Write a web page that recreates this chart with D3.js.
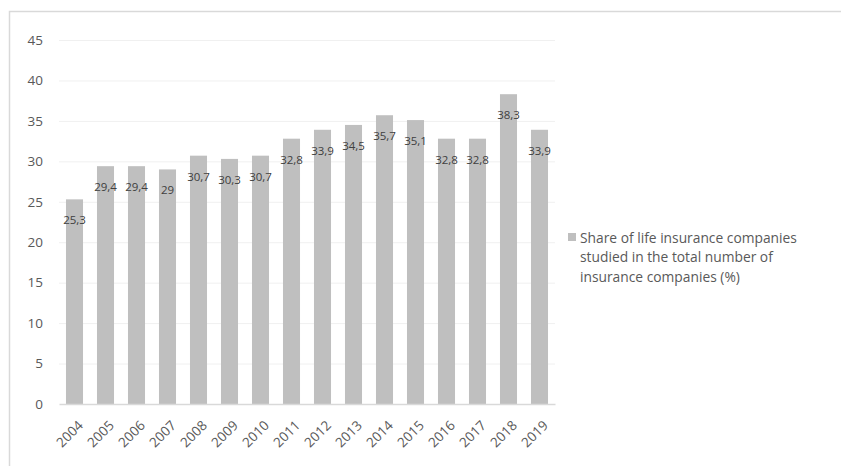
<!DOCTYPE html>
<html>
<head>
<meta charset="utf-8">
<title>Share of life insurance companies</title>
<script src="https://cdnjs.cloudflare.com/ajax/libs/d3/7.8.5/d3.min.js"></script>
<style type="text/css">
body { margin: 0; background: #fff; font-family: "Open Sans", sans-serif; }
.tick text { fill: #595959; font-size: 13.5px; }
.label { fill: #404040; font-size: 11.5px; }
.legend { fill: #595959; font-size: 13.8px; }
</style>
</head>
<body>
<script>
// data
var years = ["2004","2005","2006","2007","2008","2009","2010","2011","2012","2013","2014","2015","2016","2017","2018","2019"];
var shares = [25.3, 29.4, 29.4, 29, 30.7, 30.3, 30.7, 32.8, 33.9, 34.5, 35.7, 35.1, 32.8, 32.8, 38.3, 33.9];
var yTicks = [0, 5, 10, 15, 20, 25, 30, 35, 40, 45];
var legendLines = ["Share of life insurance companies", "studied in the total number of", "insurance companies (%)"];

var W = 841, H = 466;
var margin = {top: 40, left: 59, right: 286, bottom: 62};
var width = W - margin.left - margin.right,
    height = H - margin.top - margin.bottom;

var svg = d3.select("body").append("svg")
    .attr("width", W)
    .attr("height", H);

// chart frame
svg.append("rect")
    .attr("x", 9.5).attr("y", 11.5)
    .attr("width", 900).attr("height", 500)
    .attr("fill", "none")
    .attr("stroke", "#d9d9d9")
    .attr("stroke-width", 1.5);

var g = svg.append("g")
    .attr("transform", "translate(" + margin.left + "," + margin.top + ")");

var x = d3.scaleBand().domain(years).range([0, width]).paddingInner(0.45).paddingOuter(0.225);
var y = d3.scaleLinear().domain([0, 45]).range([height, 0]);

// gridlines
g.selectAll(".grid").data(yTicks.slice(1)).enter().append("line")
    .attr("x1", 0).attr("x2", width)
    .attr("y1", function(d) { return y(d) + 0.5; })
    .attr("y2", function(d) { return y(d) + 0.5; })
    .attr("stroke", "#f0f0f0")
    .attr("stroke-width", 1);

var yAxis = d3.axisLeft(y).tickValues(yTicks).tickSize(0).tickPadding(16);
g.append("g").call(yAxis).call(function(a) { a.select(".domain").remove(); })
    .selectAll("text").attr("font-family", "Open Sans, sans-serif");

g.selectAll(".bar").data(shares).enter().append("rect")
    .attr("x", function(d, i) { return x(years[i]); })
    .attr("y", function(d) { return y(d); })
    .attr("width", x.bandwidth())
    .attr("height", function(d) { return height - y(d); })
    .attr("fill", "#bfbfbf");

// x axis
var xAxis = d3.axisBottom(x).tickSize(0);
var xg = g.append("g").attr("transform", "translate(0," + height + ")").call(xAxis);
xg.select(".domain").attr("stroke", "#d9d9d9").attr("stroke-width", 1.5);
xg.selectAll("text")
    .attr("font-family", "Open Sans, sans-serif")
    .style("text-anchor", "end")
    .attr("x", 0).attr("y", 0)
    .attr("dy", "0.35em")
    .attr("transform", "translate(6,19) rotate(-45)");

// value labels
g.selectAll(".label").data(shares).enter().append("text")
    .attr("class", "label")
    .attr("x", function(d, i) { return x(years[i]) + x.bandwidth() / 2; })
    .attr("y", function(d) { return y(d) + 25; })
    .attr("text-anchor", "middle")
    .text(function(d) { return String(d).replace(".", ","); });

// legend
var lg = svg.append("g").attr("transform", "translate(568,233)");
lg.append("rect").attr("width", 8).attr("height", 8).attr("fill", "#bfbfbf");
lg.selectAll("text").data(legendLines).enter().append("text")
    .attr("class", "legend")
    .attr("x", 12)
    .attr("y", function(d, i) { return 9.5 + i * 19.5; })
    .text(function(d) { return d; });
</script>
</body>
</html>
